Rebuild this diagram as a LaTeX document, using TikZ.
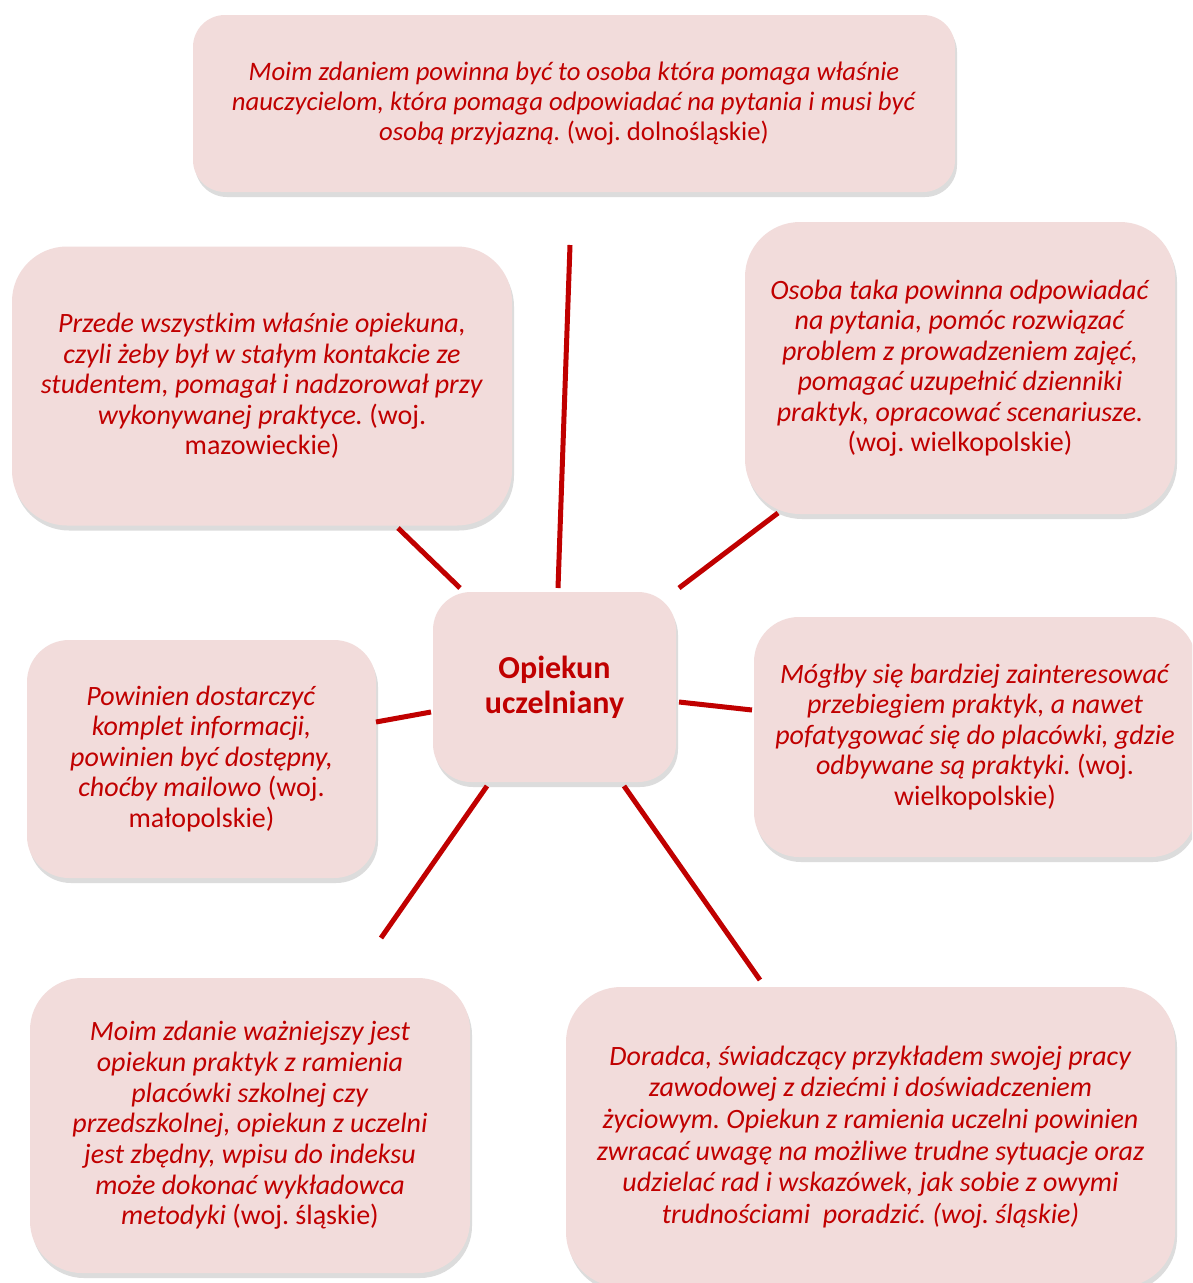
\documentclass[tikz,border=0pt]{standalone}
\usepackage{fontspec}
\setmainfont{Carlito}
\usetikzlibrary{shadows}
\definecolor{txtred}{HTML}{C00000}
\definecolor{boxfill}{HTML}{F2DCDB}
\tikzset{
  bubble/.style={draw=none, fill=boxfill, text=txtred, align=center,
    inner sep=0pt, font=\fontsize{28}{30.5}\selectfont,
    drop shadow={shadow xshift=2pt, shadow yshift=-5pt, opacity=0.3, fill=black!45}},
  link/.style={draw=txtred, line width=5pt}
}
\begin{document}
\frenchspacing
\begin{tikzpicture}[x=1pt,y=-1pt]
\clip (0,0) rectangle (1192,1283);
\fill[white] (0,0) rectangle (1192,1283);
% boxes
\node[bubble, minimum width=762pt, minimum height=177pt, rounded corners=32pt,
  font=\fontsize{26.7}{30}\selectfont] (top) at (574,103.5)
 {\textit{Moim zdaniem powinna być to osoba która pomaga właśnie}\\
  \textit{nauczycielom, która pomaga odpowiadać na pytania i musi być}\\
  \textit{osobą przyjazną.} (woj. dolnośląskie)};
\node[bubble, minimum width=500pt, minimum height=279pt, rounded corners=55pt] (ul) at (262,386)
 {\textit{Przede wszystkim właśnie opiekuna,}\\
  \textit{czyli żeby był w stałym kontakcie ze}\\
  \textit{studentem, pomagał i nadzorował przy}\\
  \textit{wykonywanej praktyce.} (woj.\\
  mazowieckie)};
\node[bubble, minimum width=430pt, minimum height=292pt, rounded corners=55pt] (ur) at (960,368)
 {\textit{Osoba taka powinna odpowiadać}\\
  \textit{na pytania, pomóc rozwiązać}\\
  \textit{problem z prowadzeniem zajęć,}\\
  \textit{pomagać uzupełnić dzienniki}\\
  \textit{praktyk, opracować scenariusze.}\\
  (woj. wielkopolskie)};
\node[bubble, minimum width=243pt, minimum height=190pt, rounded corners=38pt,
  font=\bfseries\fontsize{32}{35}\selectfont] (center) at (554.5,687)
 {Opiekun\\uczelniany};
\node[bubble, minimum width=349pt, minimum height=238pt, rounded corners=42pt] (ml) at (201.5,759)
 {\textit{Powinien dostarczyć}\\
  \textit{komplet informacji,}\\
  \textit{powinien być dostępny,}\\
  \textit{choćby mailowo} (woj.\\
  małopolskie)};
\node[bubble, minimum width=442pt, minimum height=240pt, rounded corners=45pt] (mr) at (975,737)
 {\textit{Mógłby się bardziej zainteresować}\\
  \textit{przebiegiem praktyk, a nawet}\\
  \textit{pofatygować się do placówki, gdzie}\\
  \textit{odbywane są praktyki.} (woj.\\
  wielkopolskie)};
\node[bubble, minimum width=440pt, minimum height=295pt, rounded corners=52pt,
  font=\fontsize{28}{30.7}\selectfont] (ll) at (250,1125.5)
 {\textit{Moim zdanie ważniejszy jest}\\
  \textit{opiekun praktyk z ramienia}\\
  \textit{placówki szkolnej czy}\\
  \textit{przedszkolnej, opiekun z uczelni}\\
  \textit{jest zbędny, wpisu do indeksu}\\
  \textit{może dokonać wykładowca}\\
  \textit{metodyki} (woj. śląskie)};
\node[bubble, minimum width=609pt, minimum height=300pt, rounded corners=55pt,
  font=\fontsize{28}{31.6}\selectfont] (lr) at (870.5,1137)
 {\textit{Doradca, świadczący przykładem swojej pracy}\\
  \textit{zawodowej z dziećmi i doświadczeniem}\\
  \textit{życiowym. Opiekun z ramienia uczelni powinien}\\
  \textit{zwracać uwagę na możliwe trudne sytuacje oraz}\\
  \textit{udzielać rad i wskazówek, jak sobie z owymi}\\
  \textit{trudnościami\ \ poradzić. (woj. śląskie)}};
% connector end points
\coordinate (t1) at (570,245);  \coordinate (t2) at (558,588);
\coordinate (a1) at (398,528);  \coordinate (a2) at (460,588);
\coordinate (b1) at (778,513);  \coordinate (b2) at (679,588);
\coordinate (c1) at (376,722);  \coordinate (c2) at (431,712);
\coordinate (d1) at (679,702);  \coordinate (d2) at (752,710);
\coordinate (e1) at (487,786);  \coordinate (e2) at (381,938);
\coordinate (f1) at (624,786);  \coordinate (f2) at (760,980);
\draw[link] (t1) -- (t2);
\draw[link] (a1) -- (a2);
\draw[link] (b1) -- (b2);
\draw[link] (c1) -- (c2);
\draw[link] (d1) -- (d2);
\draw[link] (e1) -- (e2);
\draw[link] (f1) -- (f2);
\end{tikzpicture}
\end{document}
